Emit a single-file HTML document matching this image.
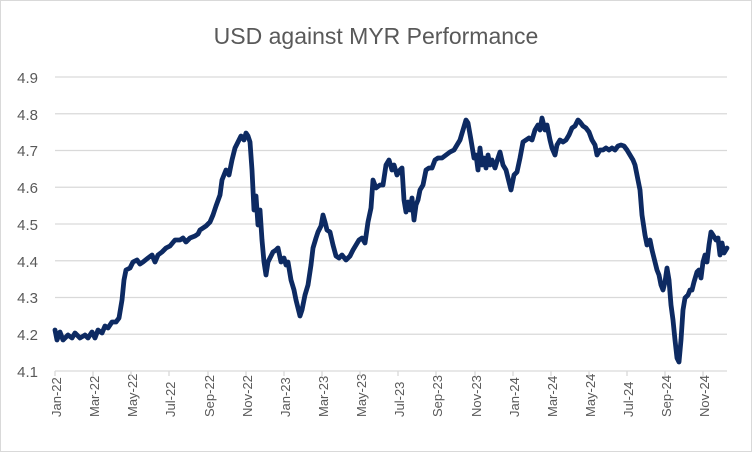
<!DOCTYPE html>
<html><head><meta charset="utf-8"><style>
html,body{margin:0;padding:0;background:#fff;}
svg{display:block;font-family:"Liberation Sans",sans-serif;}
</style></head><body>
<svg width="752" height="452" viewBox="0 0 752 452" xmlns="http://www.w3.org/2000/svg">
<rect x="0.5" y="0.5" width="751" height="451" fill="#fff" stroke="#d9d9d9"/>
<text x="376" y="44" text-anchor="middle" font-size="23" fill="#595959">USD against MYR Performance</text>
<g stroke="#d9d9d9" stroke-width="1.3">
<line x1="55" x2="727" y1="77" y2="77"/>
<line x1="55" x2="727" y1="113.75" y2="113.75"/>
<line x1="55" x2="727" y1="150.5" y2="150.5"/>
<line x1="55" x2="727" y1="187.25" y2="187.25"/>
<line x1="55" x2="727" y1="224" y2="224"/>
<line x1="55" x2="727" y1="260.75" y2="260.75"/>
<line x1="55" x2="727" y1="297.5" y2="297.5"/>
<line x1="55" x2="727" y1="334.25" y2="334.25"/>
<line x1="55" x2="727" y1="371" y2="371"/>
</g>
<g font-size="15" fill="#595959" text-anchor="end">
<text x="38" y="83">4.9</text><text x="38" y="120">4.8</text><text x="38" y="156">4.7</text>
<text x="38" y="193">4.6</text><text x="38" y="230">4.5</text><text x="38" y="267">4.4</text>
<text x="38" y="303">4.3</text><text x="38" y="340">4.2</text><text x="38" y="377">4.1</text>
</g>
<polyline fill="none" stroke="#0d2a62" stroke-width="4.8" stroke-linejoin="round" stroke-linecap="round" points="55,330 57,340 60,332 63,340 68,335 72,338 75,333 80,338 85,335 88,338 92,332 95,338 98,330 102,333 105,326 108,328 112,322 116,322 119,318 122,300 124,280 126,270 130,268 133,262 137,260 140,264 143,262 148,258 152,255 155,262 158,255 162,252 166,248 170,246 175,240 180,240 183,238 186,242 190,238 195,236 198,234 200,230 203,228 206,226 210,222 213,215 216,206 220,195 222,180 226,170 229,175 232,160 235,148 238,142 241,136 244,140 246,133 248,136 250,142 252,170 254,210 256,196 258,225 260,210 262,240 264,262 266,275 268,262 270,258 273,252 276,250 278,248 281,262 284,258 286,265 288,262 291,280 294,290 296,300 298,308 300,316 302,310 305,295 308,285 311,265 313,248 316,238 318,232 321,226 323,215 325,222 327,230 330,232 333,245 336,256 339,258 342,255 346,260 350,256 353,250 356,245 359,240 362,238 365,243 368,222 371,208 373,180 376,188 380,185 383,185 386,165 389,160 392,170 394,165 397,175 400,170 402,168 404,200 406,212 408,202 410,210 412,198 414,220 416,205 418,200 420,190 423,185 426,170 429,168 432,168 435,160 438,158 442,158 446,155 450,152 454,150 457,145 460,140 463,130 466,120 468,123 471,140 474,158 476,155 478,170 480,148 482,165 484,158 486,168 488,155 490,165 492,160 495,168 498,158 500,152 503,165 506,170 509,182 511,190 514,175 517,172 520,158 523,142 526,140 529,138 532,140 535,130 538,125 540,130 542,118 545,130 547,125 550,140 552,148 555,155 557,145 560,140 563,142 566,140 569,135 572,128 575,126 578,120 580,122 583,126 586,128 589,132 592,140 595,145 597,155 600,150 603,150 606,148 609,150 612,148 615,150 618,146 621,145 624,146 627,150 630,155 633,160 635,165 638,180 640,190 642,215 645,235 647,245 650,240 652,250 655,262 657,270 659,275 661,285 663,290 665,282 667,268 669,280 671,305 673,320 675,340 677,358 679,362 681,340 683,310 685,298 688,295 690,290 692,290 694,282 697,272 699,270 701,278 703,262 705,255 707,262 709,245 711,232 713,235 716,240 718,238 720,255 722,243 724,253 727,248"/>
<g font-size="13" fill="#595959">
<text transform="translate(61,417) rotate(-90)">Jan-22</text>
<text transform="translate(99,417) rotate(-90)">Mar-22</text>
<text transform="translate(137,417) rotate(-90)">May-22</text>
<text transform="translate(175,417) rotate(-90)">Jul-22</text>
<text transform="translate(214,417) rotate(-90)">Sep-22</text>
<text transform="translate(252,417) rotate(-90)">Nov-22</text>
<text transform="translate(290,417) rotate(-90)">Jan-23</text>
<text transform="translate(328,417) rotate(-90)">Mar-23</text>
<text transform="translate(366,417) rotate(-90)">May-23</text>
<text transform="translate(404,417) rotate(-90)">Jul-23</text>
<text transform="translate(442,417) rotate(-90)">Sep-23</text>
<text transform="translate(481,417) rotate(-90)">Nov-23</text>
<text transform="translate(519,417) rotate(-90)">Jan-24</text>
<text transform="translate(557,417) rotate(-90)">Mar-24</text>
<text transform="translate(595,417) rotate(-90)">May-24</text>
<text transform="translate(633,417) rotate(-90)">Jul-24</text>
<text transform="translate(671,417) rotate(-90)">Sep-24</text>
<text transform="translate(709,417) rotate(-90)">Nov-24</text>
</g>
<g stroke="#d9d9d9" stroke-width="1.3">
<line x1="55" x2="55" y1="371" y2="376"/><line x1="93" x2="93" y1="371" y2="376"/>
<line x1="131" x2="131" y1="371" y2="376"/><line x1="169" x2="169" y1="371" y2="376"/>
<line x1="208" x2="208" y1="371" y2="376"/><line x1="246" x2="246" y1="371" y2="376"/>
<line x1="284" x2="284" y1="371" y2="376"/><line x1="322" x2="322" y1="371" y2="376"/>
<line x1="360" x2="360" y1="371" y2="376"/><line x1="398" x2="398" y1="371" y2="376"/>
<line x1="436" x2="436" y1="371" y2="376"/><line x1="475" x2="475" y1="371" y2="376"/>
<line x1="513" x2="513" y1="371" y2="376"/><line x1="551" x2="551" y1="371" y2="376"/>
<line x1="589" x2="589" y1="371" y2="376"/><line x1="627" x2="627" y1="371" y2="376"/>
<line x1="665" x2="665" y1="371" y2="376"/><line x1="703" x2="703" y1="371" y2="376"/>
</g>
</svg>
</body></html>
